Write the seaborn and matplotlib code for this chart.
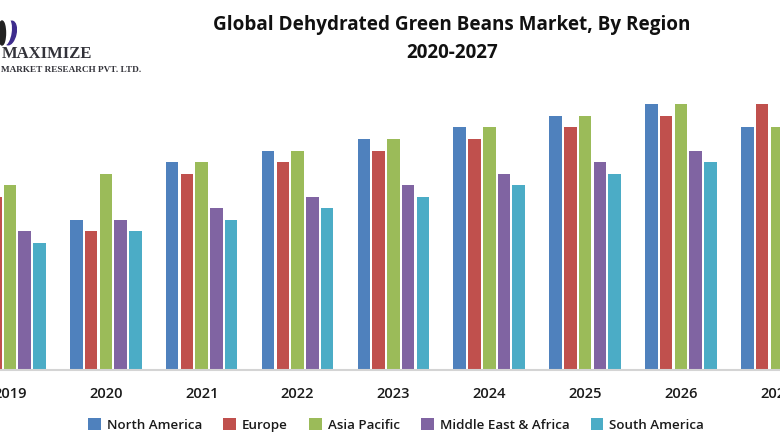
import numpy as np
import pandas as pd
import matplotlib
matplotlib.use("Agg")
import matplotlib.pyplot as plt
from matplotlib.patches import Ellipse
import seaborn as sns

years = ["2019", "2020", "2021", "2022", "2023", "2024", "2025", "2026", "2027"]
north_america = [16, 13, 18, 19, 20, 21, 22, 23, 21]
europe = [15, 12, 17, 18, 19, 20, 21, 22, 23]
asia_pacific = [16, 17, 18, 19, 20, 21, 22, 23, 21]
middle_east = [12, 13, 14, 15, 16, 17, 18, 19, 19]
south_america = [11, 12, 13, 14, 15, 16, 17, 18, 18]

regions = ["North America", "Europe", "Asia Pacific", "Middle East & Africa", "South America"]
colors = ["#4f81bd", "#c0504d", "#9bbb59", "#8064a2", "#4bacc6"]

df = pd.DataFrame({
    "year": years,
    "North America": north_america,
    "Europe": europe,
    "Asia Pacific": asia_pacific,
    "Middle East & Africa": middle_east,
    "South America": south_america,
})
df = df.melt(id_vars="year", var_name="region", value_name="value")

sns.set_theme(style="white")
plt.rcParams["font.family"] = ["Open Sans", "DejaVu Sans"]

W, H = 780, 440
base_y = 370
fig = plt.figure(figsize=(W / 100, H / 100), dpi=100)
ax = fig.add_axes([0, (H - base_y) / H, 1, base_y / H])

sns.barplot(data=df, x="year", y="value", hue="region", hue_order=regions,
            palette=colors, saturation=1, width=0.77, gap=0.15, ax=ax,
            edgecolor="none", legend=True)

# pixels: 2019 sits at x=10, one year is 95.85 px wide, one unit is 11.55 px tall
ax.set_xlim(-10 / 95.85, (W - 10) / 95.85)
ax.set_ylim(0, base_y / 11.55)
ax.set_yticks([])
ax.set_xlabel("")
ax.set_ylabel("")
ax.tick_params(axis="x", length=0, pad=12, labelsize=10.5, labelcolor="#1a1a1a")
for lab in ax.get_xticklabels():
    lab.set_fontweight("semibold")
sns.despine(ax=ax, left=True, top=True, right=True)
ax.spines["bottom"].set_color("#d4d4d4")
ax.spines["bottom"].set_linewidth(1.5)
ax.patch.set_alpha(0)

leg = ax.legend(loc="center", bbox_to_anchor=(396 / W, (H - 425) / H), bbox_transform=fig.transFigure,
                ncol=5, frameon=False, fontsize=9.6, handlelength=0.95, handleheight=0.95,
                handletextpad=0.45, columnspacing=1.6, borderpad=0)
for t in leg.get_texts():
    t.set_fontweight("semibold")
    t.set_color("#1a1a1a")

fig.text(452 / W, 1 - 25 / H, "Global Dehydrated Green Beans Market, By Region",
         ha="center", va="center", fontsize=13.6, fontweight="bold", color="#111111")
fig.text(452 / W, 1 - 53 / H, "2020-2027",
         ha="center", va="center", fontsize=13.6, fontweight="bold", color="#111111")

# logo, top left
fig.text(2 / W, 1 - 54 / H, "MAXIMIZE", family="Liberation Serif", fontsize=12,
         fontweight="bold", color="#33333a", ha="left", va="center")
fig.text(1 / W, 1 - 70 / H, "MARKET RESEARCH PVT. LTD.", family="Liberation Serif", fontsize=6.7,
         fontweight="bold", color="#33333a", ha="left", va="center")
logo = fig.add_axes([0, 1 - 46 / H, 20 / W, 26 / H])
logo.set_xlim(0, 20)
logo.set_ylim(0, 26)
logo.axis("off")
logo.add_patch(Ellipse((10, 13), 12, 24, angle=-12, color="#3d2c8d"))
logo.add_patch(Ellipse((6, 14), 10, 26, angle=-8, color="white"))
logo.add_patch(Ellipse((2, 13), 7, 24, color="#222222"))

fig.savefig("out.png", dpi=100)
